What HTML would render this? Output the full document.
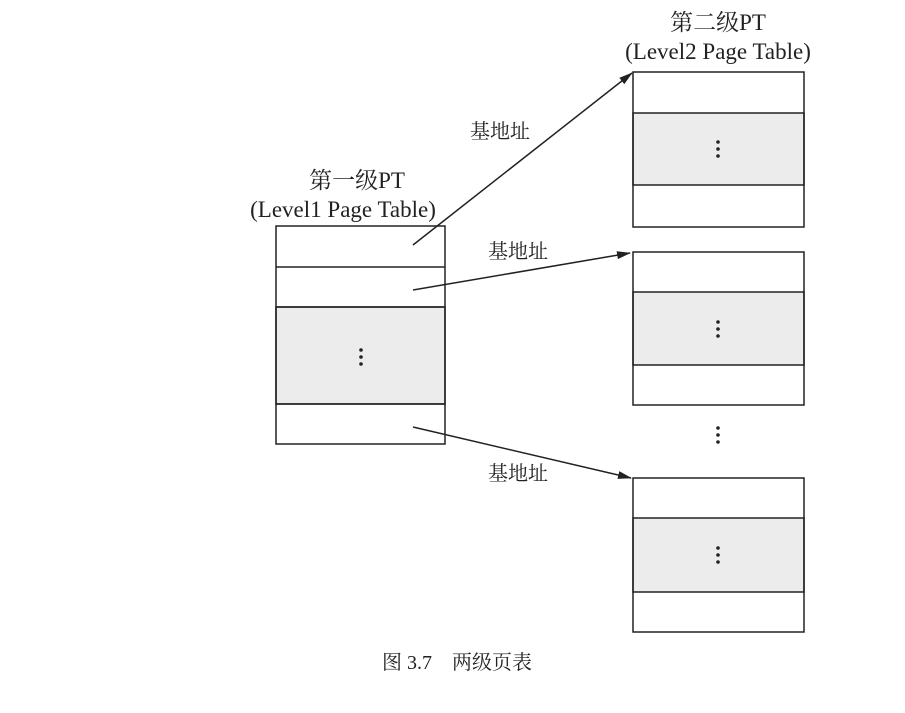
<!DOCTYPE html>
<html><head><meta charset="utf-8"><style>
body{margin:0;background:#fff;}
svg text{font-family:"Liberation Serif","Noto Serif CJK SC",serif;fill:#222;}
</style></head><body>
<svg width="905" height="708" viewBox="0 0 905 708" xmlns="http://www.w3.org/2000/svg">
<defs><marker id="a" markerWidth="14" markerHeight="8" refX="13" refY="4" orient="auto" markerUnits="userSpaceOnUse"><path d="M0,0 L14,4 L0,8 Z" fill="#222"/></marker></defs>
<g stroke="#222" stroke-width="1.5">
<rect x="276" y="307" width="169" height="97" fill="#ececec"/>
<rect x="276" y="226" width="169" height="218" fill="none"/>
<line x1="276" y1="267" x2="445" y2="267"/><line x1="276" y1="307" x2="445" y2="307"/><line x1="276" y1="404" x2="445" y2="404"/>
<rect x="633" y="113" width="171" height="72" fill="#ececec"/>
<rect x="633" y="72" width="171" height="155" fill="none"/>
<rect x="633" y="292" width="171" height="73" fill="#ececec"/>
<rect x="633" y="252" width="171" height="153" fill="none"/>
<rect x="633" y="518" width="171" height="74" fill="#ececec"/>
<rect x="633" y="478" width="171" height="154" fill="none"/>
<line x1="413" y1="245" x2="632" y2="73" marker-end="url(#a)"/>
<line x1="413" y1="290" x2="630" y2="253" marker-end="url(#a)"/>
<line x1="413" y1="427" x2="631" y2="478" marker-end="url(#a)"/>
</g>
<g fill="#222">
<circle cx="361" cy="350" r="1.8"/><circle cx="361" cy="357" r="1.8"/><circle cx="361" cy="364" r="1.8"/>
<circle cx="718" cy="142" r="1.8"/><circle cx="718" cy="149" r="1.8"/><circle cx="718" cy="156" r="1.8"/>
<circle cx="718" cy="322" r="1.8"/><circle cx="718" cy="329" r="1.8"/><circle cx="718" cy="336" r="1.8"/>
<circle cx="718" cy="428" r="1.8"/><circle cx="718" cy="435" r="1.8"/><circle cx="718" cy="442" r="1.8"/>
<circle cx="718" cy="548" r="1.8"/><circle cx="718" cy="555" r="1.8"/><circle cx="718" cy="562" r="1.8"/>
</g>
<g font-size="23" text-anchor="middle">
<text x="357" y="188">第一级PT</text>
<text x="343" y="217">(Level1 Page Table)</text>
<text x="718" y="30">第二级PT</text>
<text x="718" y="59">(Level2 Page Table)</text>
<text x="500" y="138" font-size="20">基地址</text>
<text x="518" y="258" font-size="20">基地址</text>
<text x="518" y="480" font-size="20">基地址</text>
<text x="457" y="669" font-size="20">图 3.7　两级页表</text>
</g>
</svg>
</body></html>
